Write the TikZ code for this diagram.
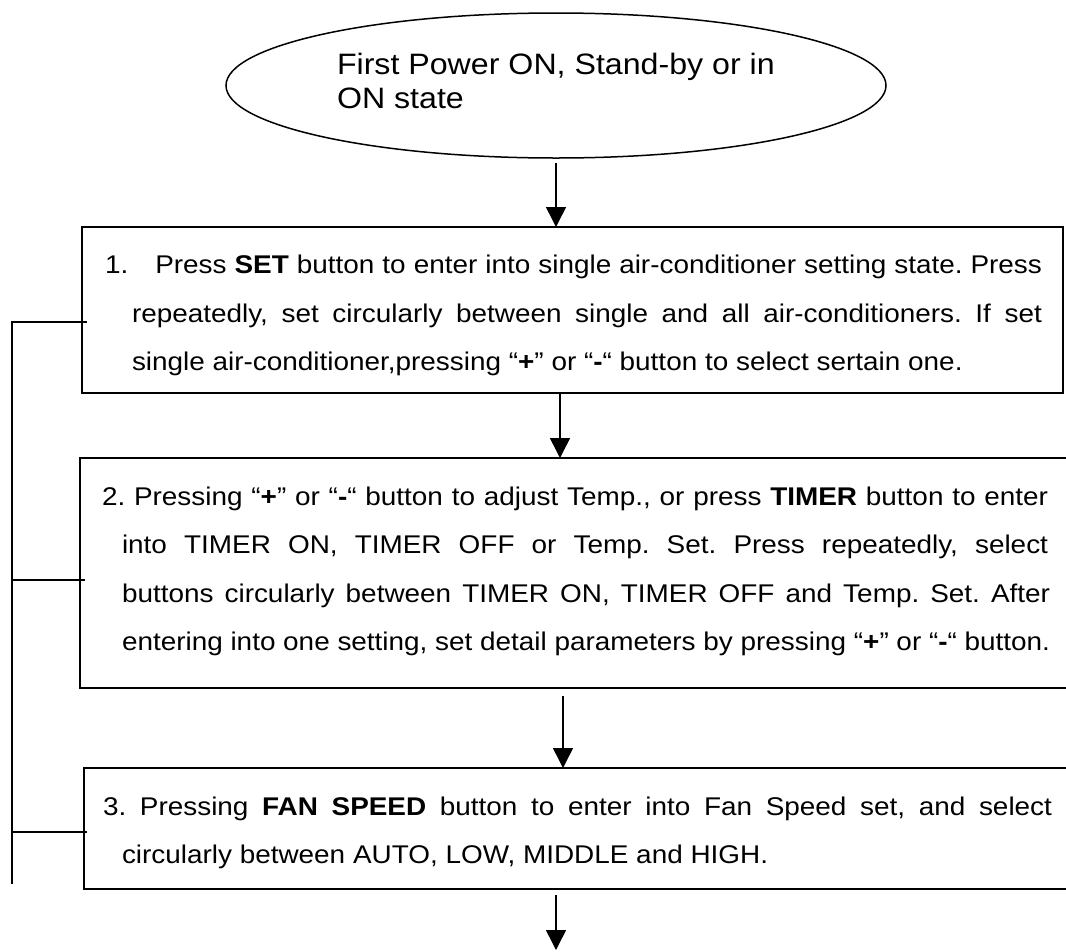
\documentclass[tikz,border=0pt]{standalone}
\usepackage{fontspec}
\setmainfont[FakeStretch=1.09]{Liberation Sans}
\usetikzlibrary{arrows.meta,shapes.geometric,calc}
\frenchspacing
\begin{document}
\begin{tikzpicture}[x=1pt,y=-1pt,
  line width=1.5pt,
  flowbox/.style={draw, rectangle, inner sep=0pt, outer sep=0pt, anchor=north west},
  txt/.style={anchor=base west, inner sep=0pt, outer sep=0pt},
  arr/.style={-{Triangle[width=20pt,length=20pt]}},
  bodyfont/.style={font=\fontsize{25.6}{48.5}\selectfont\frenchspacing},
  ellfont/.style={font=\fontsize{29.5}{34.5}\selectfont\frenchspacing}]
\clip (0,0) rectangle (1066,951);
\fill[white] (0,0) rectangle (1066,951);

% start ellipse
\node[draw, ellipse, minimum width=660pt, minimum height=145pt, inner sep=0pt, outer sep=0pt] (e) at (556,85.5) {};
\node[txt, ellfont] (et) at (337,74) {\parbox[t]{520pt}{First Power ON, Stand-by or in\\ON state}};

% box 1
\node[flowbox, minimum width=981pt, minimum height=166pt] (b1) at (82,227) {};
\node[txt, bodyfont] (t1) at (105,273.5) {\parbox[t]{960pt}{\frenchspacing
\makebox[937pt][s]{1.\hspace*{27pt}Press \textbf{SET} button to enter into single air-conditioner setting state. Press}\\
\hspace*{27pt}\makebox[910pt][s]{repeatedly, set circularly between single and all air-conditioners. If set}\\
\hspace*{27pt}single air-conditioner,pressing “\textbf{+}” or “\textbf{-}“ button to select sertain one.}};

% box 2
\node[flowbox, minimum width=1000pt, minimum height=230pt] (b2) at (80,458) {};
\node[txt, bodyfont] (t2) at (102,505) {\parbox[t]{980pt}{\frenchspacing
\makebox[946pt][s]{2. Pressing “\textbf{+}” or “\textbf{-}“ button to adjust Temp., or press \textbf{TIMER} button to enter}\\
\hspace*{20pt}\makebox[926pt][s]{into TIMER ON, TIMER OFF or Temp. Set. Press repeatedly, select}\\
\hspace*{20pt}\makebox[928pt][s]{buttons circularly between TIMER ON, TIMER OFF and Temp. Set. After}\\
\hspace*{20pt}\makebox[928pt][s]{entering into one setting, set detail parameters by pressing “\textbf{+}” or “\textbf{-}“ button.}}};

% box 3
\node[flowbox, minimum width=1000pt, minimum height=121pt] (b3) at (84,768) {};
\node[txt, bodyfont] (t3) at (103,815) {\parbox[t]{980pt}{\frenchspacing
\makebox[949pt][s]{3. Pressing \textbf{FAN SPEED} button to enter into Fan Speed set, and select}\\
\hspace*{19pt}circularly between AUTO, LOW, MIDDLE and HIGH.}};

% arrows
\draw[arr] ([yshift=-5pt]e.south) -- (e.south |- b1.north);
\draw[arr] ([xshift=-12.5pt]b1.south) -- ([xshift=-12.5pt]b1.south |- b2.north);
\coordinate (a2s) at ($(b2.south west)+(483,8)$);
\draw[arr] (a2s) -- (a2s |- b3.north);
\coordinate (a3s) at ($(b3.south west)+(472,6)$);
\coordinate (fin) at (556,950);
\draw[arr] (a3s) -- (a3s |- fin);

% left bracket
\coordinate (k1) at (87,322);
\coordinate (k2) at (85,580);
\coordinate (k3) at (87,832);
\coordinate (kb) at (12,884);
\draw (k1) -| (kb);
\draw (k2) -- (k2 -| kb);
\draw (k3) -- (k3 -| kb);
\end{tikzpicture}
\end{document}
